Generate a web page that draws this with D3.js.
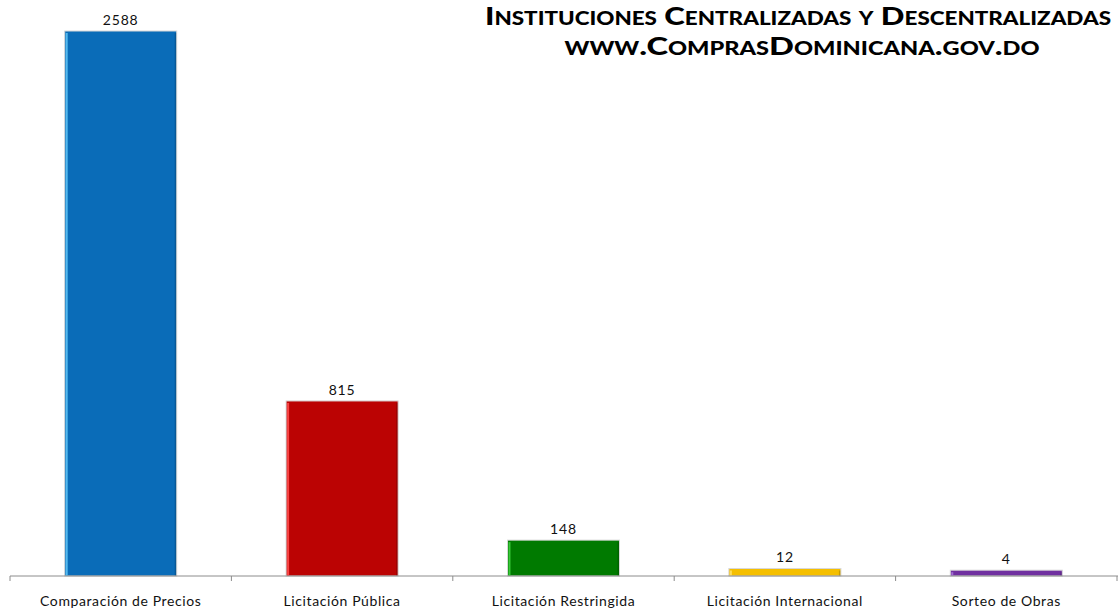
<!DOCTYPE html>
<html>
<head>
<meta charset="utf-8">
<script src="https://cdn.jsdelivr.net/npm/d3@7"></script>
<style>
body { margin: 0; background: #fff; }
svg { display: block; }
text { font-family: "Lato", "DejaVu Sans", sans-serif; }
</style>
</head>
<body>
<svg id="graph1"></svg>
<script>
var screen = {width: 1119, height: 612};

// data
var categories = ["Comparación de Precios", "Licitación Pública", "Licitación Restringida", "Licitación Internacional", "Sorteo de Obras"];
var values = [2588, 815, 148, 12, 4];
var colors = ["#0a6cb8", "#bb0303", "#007a00", "#f5bf00", "#7030a0"];
var edgeColors = ["#5cc3f5", "#ff4a4a", "#3fd03f", "#ffe060", "#a874d8"];
var titleLines = ["Instituciones Centralizadas y Descentralizadas", "www.ComprasDominicana.gov.do"];
var titleWidths = [626, 475];

var setup = function()
{
    var svg = d3.select("#graph1")
        .attr("width", screen.width)
        .attr("height", screen.height)

    var axisY = 576
    var bevel = 5

    var xScale = d3.scaleBand()
        .domain(categories)
        .range([10, 1117])
        .paddingInner(0.494)
        .paddingOuter(0.247)

    var yScale = d3.scaleLinear()
        .domain([0, d3.max(values)])
        .range([axisY - bevel, 31])

    var step = xScale.step()

    // title
    var title = svg.append("g")
    title.selectAll("text")
        .data(titleLines)
        .enter()
        .append("text")
        .attr("x", function(d, i) { return i == 0 ? 798 : 802 })
        .attr("y", function(d, i) { return 25 + i * 30 })
        .attr("text-anchor", "middle")
        .attr("textLength", function(d, i) { return titleWidths[i] })
        .attr("lengthAdjust", "spacingAndGlyphs")
        .style("font-size", "25px")
        .style("font-weight", "900")
        .style("font-variant", "small-caps")
        .style("fill", "#000")
        .text(function(d) { return d })

    // bars
    var bars = svg.append("g")
        .selectAll("g")
        .data(values)
        .enter()
        .append("g")

    bars.append("rect")
        .attr("x", function(d, i) { return xScale(categories[i]) })
        .attr("y", function(d) { return yScale(d) })
        .attr("width", xScale.bandwidth())
        .attr("height", function(d) { return axisY - yScale(d) })
        .attr("fill", function(d, i) { return colors[i] })
        .attr("stroke", "#d8d8d8")
        .attr("stroke-width", 1)

    // light left edge
    bars.append("rect")
        .attr("x", function(d, i) { return xScale(categories[i]) + 1 })
        .attr("y", function(d) { return yScale(d) + 2 })
        .attr("width", 2)
        .attr("height", function(d) { return Math.max(0, axisY - yScale(d) - 2) })
        .attr("fill", function(d, i) { return edgeColors[i] })
        .attr("opacity", 0.9)

    // dark right edge
    bars.append("rect")
        .attr("x", function(d, i) { return xScale(categories[i]) + xScale.bandwidth() - 2 })
        .attr("y", function(d) { return yScale(d) + 2 })
        .attr("width", 1.5)
        .attr("height", function(d) { return Math.max(0, axisY - yScale(d) - 2) })
        .attr("fill", "#000")
        .attr("opacity", 0.18)

    // value labels
    bars.append("text")
        .attr("x", function(d, i) { return xScale(categories[i]) + xScale.bandwidth() / 2 })
        .attr("y", function(d) { return yScale(d) - 6 })
        .attr("text-anchor", "middle")
        .style("font-size", "14px")
        .style("letter-spacing", "0.8px")
        .style("fill", "#111")
        .text(function(d) { return d })

    // x axis
    var xAxis = d3.axisBottom(xScale).tickSize(0).tickPadding(20)
    var ax = svg.append("g")
        .attr("id", "xAxis")
        .attr("transform", "translate(0," + axisY + ")")
        .call(xAxis)
    ax.select(".domain").remove()
    ax.selectAll("text")
        .style("font-size", "14px")
        .style("letter-spacing", "0.6px")
        .style("font-family", "Lato, sans-serif")
        .style("fill", "#111")

    ax.append("line")
        .attr("x1", 10)
        .attr("x2", 1118)
        .attr("y1", 0)
        .attr("y2", 0)
        .attr("stroke", "#8c8c8c")

    ax.selectAll(".sep")
        .data(d3.range(categories.length + 1))
        .enter()
        .append("line")
        .attr("class", "sep")
        .attr("x1", function(i) { return 10 + i * step })
        .attr("x2", function(i) { return 10 + i * step })
        .attr("y1", 0)
        .attr("y2", 5)
        .attr("stroke", "#8c8c8c")
}

setup()
</script>
</body>
</html>
